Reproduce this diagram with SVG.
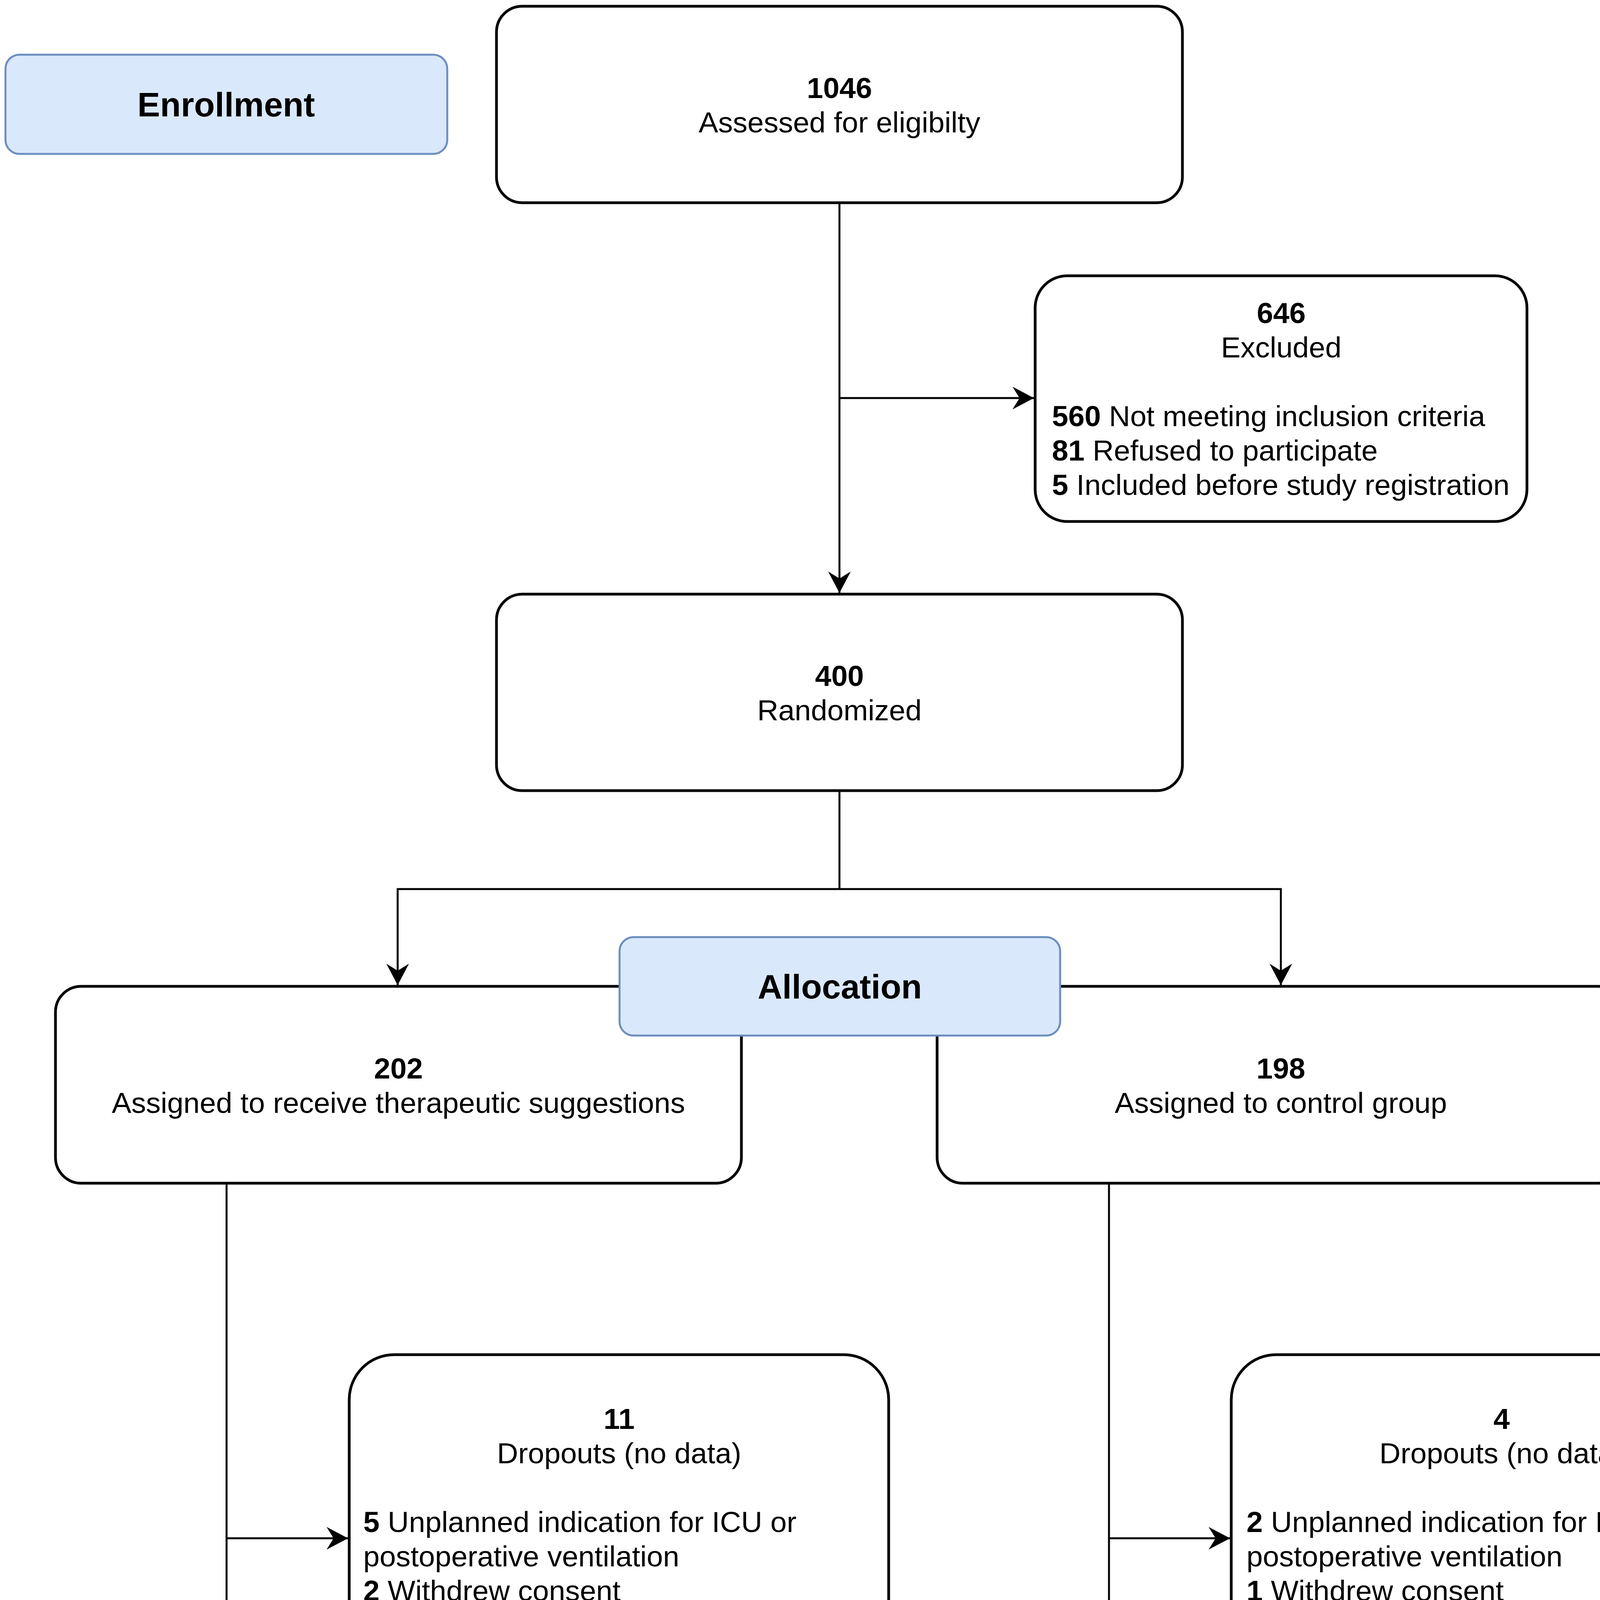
<svg xmlns="http://www.w3.org/2000/svg" width="4550" height="5304" viewBox="0 0 4550 5304">
<style>
text{font-family:"Liberation Sans",Arial,Helvetica,sans-serif;font-size:75px;fill:#000}
.c{text-anchor:middle}
.b{font-weight:bold}
.lbl{font-weight:bold;font-size:87px;text-anchor:middle}
.box{fill:#fff;stroke:#000;stroke-width:7}
.blue{fill:#dae8fc;stroke:#6c8ebf;stroke-width:5}
.ln{fill:none;stroke:#000;stroke-width:5}
</style>
<defs>
<marker id="arr" markerUnits="userSpaceOnUse" markerWidth="60" markerHeight="60" refX="55" refY="29" orient="auto">
<path d="M0,0 L55,29 L0,58 L18,29 Z" fill="#000"/>
</marker>
</defs>
<rect width="4550" height="5304" fill="#fff"/>

<g id="connectors">
<path class="ln" d="M2149,519 V1518" marker-end="url(#arr)"/>
<path class="ln" d="M2149,1019 H2647" marker-end="url(#arr)"/>
<path class="ln" d="M2149,2024 V2276"/>
<path class="ln" d="M2149,2276 H1018 V2522" marker-end="url(#arr)"/>
<path class="ln" d="M2149,2276 H3279 V2522" marker-end="url(#arr)"/>
<path class="ln" d="M580,3029 V4783" marker-end="url(#arr)"/>
<path class="ln" d="M580,3938 H891" marker-end="url(#arr)"/>
<path class="ln" d="M2839,3029 V4783" marker-end="url(#arr)"/>
<path class="ln" d="M2839,3938 H3149" marker-end="url(#arr)"/>
</g>

<g id="enrollment">
<rect class="blue" x="14" y="140" width="1131" height="254" rx="36"/>
<text class="lbl" x="579" y="298">Enrollment</text>
</g>

<g id="assessed">
<rect class="box" x="1271" y="16" width="1756" height="503" rx="66"/>
<text class="c b" x="2149" y="251">1046</text>
<text class="c" x="2149" y="339">Assessed for eligibilty</text>
</g>

<g id="excluded">
<rect class="box" x="2650" y="706" width="1259" height="629" rx="82"/>
<text class="c b" x="3280" y="827">646</text>
<text class="c" x="3280" y="915">Excluded</text>
<text x="2693" y="1091"><tspan class="b">560</tspan> Not meeting inclusion criteria</text>
<text x="2693" y="1179"><tspan class="b">81</tspan> Refused to participate</text>
<text x="2693" y="1267"><tspan class="b">5</tspan> Included before study registration</text>
</g>

<g id="randomized">
<rect class="box" x="1271" y="1521" width="1756" height="503" rx="66"/>
<text class="c b" x="2149" y="1756">400</text>
<text class="c" x="2149" y="1844">Randomized</text>
</g>

<g id="assigned-therapeutic">
<rect class="box" x="142" y="2525" width="1756" height="504" rx="66"/>
<text class="c b" x="1020" y="2761">202</text>
<text class="c" x="1020" y="2849">Assigned to receive therapeutic suggestions</text>
</g>

<g id="assigned-control">
<rect class="box" x="2399" y="2525" width="1759" height="504" rx="66"/>
<text class="c b" x="3279" y="2761">198</text>
<text class="c" x="3279" y="2849">Assigned to control group</text>
</g>

<g id="allocation">
<rect class="blue" x="1586" y="2399" width="1128" height="252" rx="36"/>
<text class="lbl" x="2150" y="2556">Allocation</text>
</g>

<g id="dropouts-therapeutic">
<rect class="box" x="894" y="3468" width="1381" height="943" rx="115"/>
<text class="c b" x="1585" y="3658">11</text>
<text class="c" x="1585" y="3746">Dropouts (no data)</text>
<text x="930" y="3922"><tspan class="b">5</tspan> Unplanned indication for ICU or</text>
<text x="930" y="4010">postoperative ventilation</text>
<text x="930" y="4098"><tspan class="b">2</tspan> Withdrew consent</text>
<text x="930" y="4186"><tspan class="b">2</tspan> Surgery cancelled or postponed</text>
<text x="930" y="4274"><tspan class="b">2</tspan> Audioplayer defect or not available</text>
</g>

<g id="dropouts-control">
<rect class="box" x="3152" y="3468" width="1384" height="943" rx="115"/>
<text class="c b" x="3844" y="3658">4</text>
<text class="c" x="3844" y="3746">Dropouts (no data)</text>
<text x="3191" y="3922"><tspan class="b">2</tspan> Unplanned indication for ICU or</text>
<text x="3191" y="4010">postoperative ventilation</text>
<text x="3191" y="4098"><tspan class="b">1</tspan> Withdrew consent</text>
<text x="3191" y="4186"><tspan class="b">1</tspan> Audioplayer defect or not available</text>
</g>

<g id="analysed-therapeutic">
<rect class="box" x="142" y="4786" width="1756" height="502" rx="66"/>
<text class="c b" x="1020" y="5024">191</text>
<text class="c" x="1020" y="5112">Analysed</text>
</g>

<g id="analysed-control">
<rect class="box" x="2399" y="4786" width="1759" height="502" rx="66"/>
<text class="c b" x="3279" y="5024">194</text>
<text class="c" x="3279" y="5112">Analysed</text>
</g>

<g id="analysis">
<rect class="blue" x="1586" y="4661" width="1128" height="252" rx="36"/>
<text class="lbl" x="2150" y="4818">Analysis</text>
</g>
</svg>
